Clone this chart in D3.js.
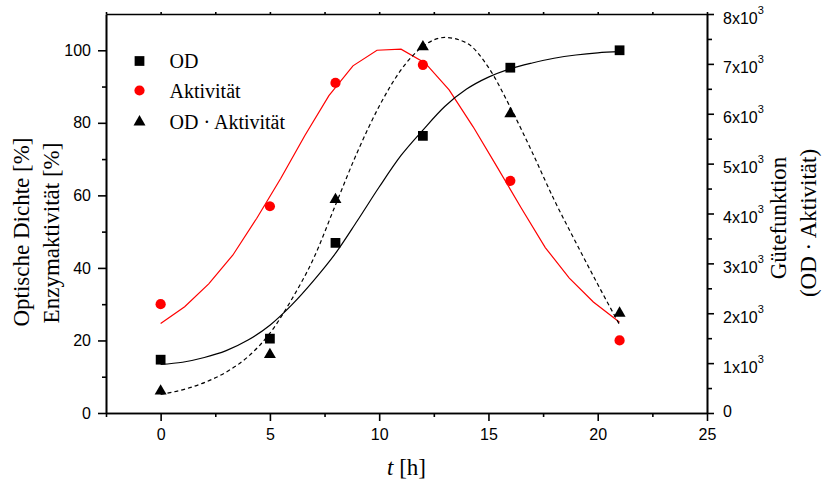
<!DOCTYPE html>
<html>
<head>
<meta charset="utf-8">
<script src="https://cdn.jsdelivr.net/npm/d3@7"></script>
<style>
    body { margin: 0; background: #fff; }
    svg { display: block; }
    .tick text { font-family: "Liberation Sans", Arial, sans-serif; font-size: 16px; fill: #000; }
    .tick line, .domain { stroke: #000; stroke-width: 1.6; }
    .axis-title { font-family: "Liberation Serif", "Times New Roman", serif; font-size: 23px; fill: #000; }
    .legend-text { font-family: "Liberation Serif", "Times New Roman", serif; font-size: 20px; fill: #000; }
</style>
</head>
<body>
<div class="vis"></div>
<script>
// measured points
const times = [0, 5, 8, 12, 16, 21];
const odValues = [14.7, 20.5, 46.9, 76.4, 95.2, 100];
const aktivitaetValues = [30, 57, 91, 96, 64, 20];
const gueteValues = [440, 1170, 4280, 7340, 6000, 2000];

// fitted curves
const odFitT = [0, 1, 2, 3, 4, 5, 6, 7, 8, 9, 10, 11, 12, 13, 14, 15, 16, 17, 18, 19, 20, 21];
const odFitValues = [13.4, 14.0, 15.3, 17.2, 20.1, 24.2, 29.8, 36.5, 44.0, 53.0, 62.3, 71.0, 78.0, 84.5, 89.3, 92.6, 94.9, 96.5, 97.8, 98.7, 99.3, 99.6];
const aktFitT = [0, 1.1, 2.2, 3.3, 4.4, 5.5, 6.6, 7.7, 8.8, 9.9, 11.0, 12.1, 13.2, 14.3, 15.4, 16.5, 17.6, 18.7, 19.8, 21];
const aktFitValues = [24.7, 29.3, 35.6, 43.5, 53.7, 64.7, 76.5, 87.5, 95.7, 100.0, 100.3, 96.5, 89.1, 78.9, 67.8, 56.5, 45.6, 37.2, 30.6, 25.0];
const gueteFitT = [0, 1, 2, 3, 4, 5, 6, 7, 8, 9, 10, 11, 12, 13, 14, 15, 16, 17, 18, 19, 20, 21];
const gueteFitValues = [375, 465, 610, 820, 1130, 1600, 2280, 3100, 4170, 5230, 6150, 6880, 7350, 7530, 7420, 6930, 6130, 5230, 4280, 3420, 2580, 1770];

// ticks
const xMajorTicks = [0, 5, 10, 15, 20, 25];
const xMinorTicks = [-2.5, 2.5, 7.5, 12.5, 17.5, 22.5];
const yLeftMajorTicks = [0, 20, 40, 60, 80, 100];
const yLeftMinorTicks = [10, 30, 50, 70, 90];
const yRightMajorTicks = [0, 1000, 2000, 3000, 4000, 5000, 6000, 7000, 8000];
const yRightMinorTicks = [500, 1500, 2500, 3500, 4500, 5500, 6500, 7500];

const legendLabels = ["OD", "Aktivität", "OD · Aktivität"];

(function () {
    const svgWidth = 822;
    const svgHeight = 484;

    var margin = { top: 14, right: 115, bottom: 71, left: 106 };
    var innerWidth = svgWidth - margin.left - margin.right;
    var innerHeight = svgHeight - margin.top - margin.bottom;

    const svg = d3.select('.vis')
        .append('svg')
            .attr('width', svgWidth)
            .attr('height', svgHeight);

    const graph = svg.append('g')
        .attr('transform', `translate(${margin.left}, ${margin.top})`);

    var xScale = d3.scaleLinear().domain([-2.5, 25]).range([0, innerWidth]);
    var yLeft = d3.scaleLinear().domain([0, 110]).range([innerHeight, 0]);
    var yRight = d3.scaleLinear().domain([0, 8000]).range([innerHeight, 0]);

    // bottom axis
    graph.append('g')
        .attr('transform', `translate(0, ${innerHeight})`)
        .call(d3.axisBottom(xScale).tickValues(xMinorTicks).tickSize(4).tickSizeOuter(0).tickFormat(''));
    graph.append('g')
        .attr('transform', `translate(0, ${innerHeight})`)
        .call(d3.axisBottom(xScale).tickValues(xMajorTicks).tickSize(8).tickSizeOuter(0).tickPadding(8));

    // top axis, tiny ticks
    graph.append('g')
        .call(d3.axisTop(xScale).tickValues(xMajorTicks.concat(xMinorTicks)).tickSize(2).tickSizeOuter(0).tickFormat(''));

    // left axis
    graph.append('g')
        .call(d3.axisLeft(yLeft).tickValues(yLeftMinorTicks).tickSize(4).tickSizeOuter(0).tickFormat(''));
    graph.append('g')
        .call(d3.axisLeft(yLeft).tickValues(yLeftMajorTicks).tickSize(8).tickSizeOuter(0).tickPadding(7));

    // right axis
    graph.append('g')
        .attr('transform', `translate(${innerWidth}, 0)`)
        .call(d3.axisRight(yRight).tickValues(yRightMinorTicks).tickSize(5).tickSizeOuter(0).tickFormat(''));
    var rightAxis = graph.append('g')
        .attr('transform', `translate(${innerWidth}, 0)`)
        .call(d3.axisRight(yRight).tickValues(yRightMajorTicks).tickSize(7).tickSizeOuter(0).tickFormat(''));

    rightAxis.selectAll('.tick').each(function (d) {
        var t = d3.select(this).append('text')
            .attr('x', 16)
            .attr('text-anchor', 'start');
        if (d === 0) {
            t.attr('y', 3.5).text('0');
        } else {
            t.attr('y', 9);
            t.append('tspan').text((d / 1000) + 'x10');
            t.append('tspan').attr('dy', -10).style('font-size', '11px').text('3');
        }
    });

    // axis titles
    svg.append('text')
        .attr('class', 'axis-title')
        .attr('text-anchor', 'middle')
        .attr('transform', 'translate(28.5, 232) rotate(-90)')
        .text('Optische Dichte [%]');
    svg.append('text')
        .attr('class', 'axis-title')
        .attr('text-anchor', 'middle')
        .attr('transform', 'translate(58.5, 233) rotate(-90)')
        .text('Enzymaktivität [%]');
    svg.append('text')
        .attr('class', 'axis-title')
        .attr('text-anchor', 'middle')
        .attr('transform', 'translate(786, 218) rotate(-90)')
        .text('Gütefunktion');
    svg.append('text')
        .attr('class', 'axis-title')
        .attr('text-anchor', 'middle')
        .attr('transform', 'translate(816, 223) rotate(-90)')
        .text('(OD · Aktivität)');

    var xTitle = svg.append('text')
        .attr('class', 'axis-title')
        .attr('text-anchor', 'middle')
        .attr('x', margin.left + innerWidth / 2)
        .attr('y', 475);
    xTitle.append('tspan').style('font-style', 'italic').text('t');
    xTitle.append('tspan').text(' [h]');

    // fit curves
    var odLine = d3.line()
        .x(function (d, i) { return xScale(odFitT[i]); })
        .y(function (d) { return yLeft(d); })
        .curve(d3.curveMonotoneX);
    var aktLine = d3.line()
        .x(function (d, i) { return xScale(aktFitT[i]); })
        .y(function (d) { return yLeft(d); });
    var gueteLine = d3.line()
        .x(function (d, i) { return xScale(gueteFitT[i]); })
        .y(function (d) { return yRight(d); })
        .curve(d3.curveMonotoneX);

    graph.append('path')
        .datum(aktFitValues)
        .attr('d', aktLine)
        .attr('fill', 'none')
        .attr('stroke', '#ff0000')
        .attr('stroke-width', 1.2);
    graph.append('path')
        .datum(odFitValues)
        .attr('d', odLine)
        .attr('fill', 'none')
        .attr('stroke', '#000')
        .attr('stroke-width', 1.2);
    graph.append('path')
        .datum(gueteFitValues)
        .attr('d', gueteLine)
        .attr('fill', 'none')
        .attr('stroke', '#000')
        .attr('stroke-width', 1.2)
        .attr('stroke-dasharray', '4,3');

    // markers
    var square = d3.symbol().type(d3.symbolSquare).size(95);
    var circle = d3.symbol().type(d3.symbolCircle).size(82);
    var triangle = d3.symbol().type(d3.symbolTriangle).size(62);

    graph.append('g').selectAll('path')
        .data(odValues)
        .enter().append('path')
            .attr('d', square)
            .attr('fill', '#000')
            .attr('transform', function (d, i) { return `translate(${xScale(times[i])}, ${yLeft(d)})`; });

    graph.append('g').selectAll('path')
        .data(aktivitaetValues)
        .enter().append('path')
            .attr('d', circle)
            .attr('fill', '#ff0000')
            .attr('transform', function (d, i) { return `translate(${xScale(times[i])}, ${yLeft(d)})`; });

    graph.append('g').selectAll('path')
        .data(gueteValues)
        .enter().append('path')
            .attr('d', triangle)
            .attr('fill', '#000')
            .attr('transform', function (d, i) { return `translate(${xScale(times[i])}, ${yRight(d)})`; });

    // legend
    var legendSymbols = [square, circle, triangle];
    var legendColors = ['#000', '#ff0000', '#000'];
    var legendY = [61, 90.5, 122];

    var legend = svg.append('g');
    legendLabels.forEach(function (label, i) {
        legend.append('path')
            .attr('d', legendSymbols[i])
            .attr('fill', legendColors[i])
            .attr('transform', `translate(139.5, ${legendY[i]})`);
        legend.append('text')
            .attr('class', 'legend-text')
            .attr('x', 169.5)
            .attr('y', legendY[i] + 7)
            .text(label);
    });
}());
</script>
</body>
</html>
